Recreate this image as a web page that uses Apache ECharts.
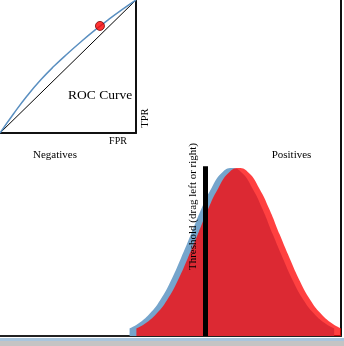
<!DOCTYPE html>
<html>
<head>
<meta charset="utf-8">
<script src="https://cdn.jsdelivr.net/npm/echarts@6/dist/echarts.min.js"></script>
<style>html,body{margin:0;padding:0;background:#fff;}#c{width:344px;height:346px;}</style>
</head>
<body>
<div id="c"></div>
<script>
// ROC curve (FPR, TPR)
const rocFpr = [0, 0.1, 0.2, 0.3, 0.4, 0.5, 0.6, 0.7, 0.8, 0.9, 1.0];
const rocTpr = [0, 0.145, 0.28, 0.4, 0.505, 0.6, 0.69, 0.775, 0.855, 0.93, 1.0];
const rocPoint = [0.735, 0.805];
// Score distributions
const negScores = [38, 41, 44, 47, 50, 53, 56, 59, 62, 65, 68, 71, 74, 77, 80, 83, 86, 89, 92, 95, 98];
const negDensity = [0.045, 0.08, 0.135, 0.215, 0.325, 0.46, 0.605, 0.755, 0.88, 0.97, 1.0, 0.97, 0.88, 0.755, 0.605, 0.46, 0.325, 0.215, 0.135, 0.08, 0.045];
const posScores = [40, 43, 46, 49, 52, 55, 58, 61, 64, 67, 70, 73, 76, 79, 82, 85, 88, 91, 94, 97, 100];
const posDensity = [0.045, 0.08, 0.135, 0.215, 0.325, 0.46, 0.605, 0.755, 0.88, 0.97, 1.0, 0.97, 0.88, 0.755, 0.605, 0.46, 0.325, 0.215, 0.135, 0.08, 0.045];
const threshold = 60.3;

const serif = "'Liberation Serif', 'Times New Roman', serif";
const chart = echarts.init(document.getElementById('c'), null, {renderer: 'canvas'});
const zip = (a, b) => a.map((v, i) => [v, b[i]]);
const noAxisBits = {axisTick: {show: false}, axisLabel: {show: false}, splitLine: {show: false}};
const axLine = (c) => ({show: true, onZero: false, lineStyle: {color: c, width: 2}});

chart.setOption({
  animation: false,
  grid: [
    {left: 0, top: 0, width: 136, height: 133, outerBoundsMode: 'none'},
    {left: 0, top: 0, width: 341, height: 336, outerBoundsMode: 'none'}
  ],
  xAxis: [
    Object.assign({type: 'value', gridIndex: 0, min: 0, max: 1, position: 'bottom', axisLine: axLine('#111')}, noAxisBits),
    Object.assign({type: 'value', gridIndex: 1, min: 0, max: 100, position: 'bottom', axisLine: axLine('#222')}, noAxisBits)
  ],
  yAxis: [
    Object.assign({type: 'value', gridIndex: 0, min: 0, max: 1, position: 'right', axisLine: axLine('#111')}, noAxisBits),
    Object.assign({type: 'value', gridIndex: 1, min: 0, max: 2, position: 'right', axisLine: axLine('#111')}, noAxisBits)
  ],
  series: [
    {type: 'line', xAxisIndex: 1, yAxisIndex: 1, data: zip(negScores, negDensity), smooth: true, symbol: 'none',
      lineStyle: {width: 0}, areaStyle: {color: '#75a5cc', opacity: 1}, z: 1},
    {type: 'line', xAxisIndex: 1, yAxisIndex: 1, data: zip(posScores, posDensity), smooth: true, symbol: 'none',
      lineStyle: {width: 0}, areaStyle: {color: 'rgb(255,0,0)', opacity: 0.75}, z: 2,
      markLine: {silent: true, symbol: 'none', label: {show: false},
        lineStyle: {color: '#000', width: 5, type: 'solid'},
        data: [[{coord: [threshold, 0]}, {coord: [threshold, 1.01]}]]}},
    {type: 'line', xAxisIndex: 0, yAxisIndex: 0, data: [[0, 0], [1, 1]], symbol: 'none',
      lineStyle: {color: '#000', width: 1}, z: 3},
    {type: 'line', xAxisIndex: 0, yAxisIndex: 0, data: zip(rocFpr, rocTpr), smooth: true, symbol: 'none',
      lineStyle: {color: '#5a8fc0', width: 1.5}, z: 4},
    {type: 'scatter', xAxisIndex: 0, yAxisIndex: 0, data: [rocPoint], symbolSize: 9,
      itemStyle: {color: '#f00', borderColor: '#700', borderWidth: 1}, z: 5}
  ],
  graphic: [
    {type: 'rect', z: 100, shape: {x: 0, y: 338, width: 344, height: 3}, style: {fill: '#a9c5dd'}},
    {type: 'rect', z: 100, shape: {x: 0, y: 341, width: 344, height: 5}, style: {fill: '#c4c4c4'}},
    {type: 'text', z: 100, x: 68, y: 95, style: {text: 'ROC Curve', font: '13.5px ' + serif, fill: '#000', verticalAlign: 'middle', align: 'left'}},
    {type: 'text', z: 100, x: 118, y: 141, style: {text: 'FPR', font: '10px ' + serif, fill: '#000', verticalAlign: 'middle', align: 'center'}},
    {type: 'text', z: 100, x: 145, y: 118, rotation: Math.PI / 2, style: {text: 'TPR', font: '10.5px ' + serif, fill: '#000', verticalAlign: 'middle', align: 'center'}},
    {type: 'text', z: 100, x: 55, y: 155, style: {text: 'Negatives', font: '11px ' + serif, fill: '#000', verticalAlign: 'middle', align: 'center'}},
    {type: 'text', z: 100, x: 291.5, y: 155, style: {text: 'Positives', font: '11px ' + serif, fill: '#000', verticalAlign: 'middle', align: 'center'}},
    {type: 'text', z: 100, x: 193, y: 206.5, rotation: Math.PI / 2, style: {text: 'Threshold (drag left or right)', font: '11px ' + serif, fill: '#000', verticalAlign: 'middle', align: 'center'}}
  ]
});
</script>
</body>
</html>
